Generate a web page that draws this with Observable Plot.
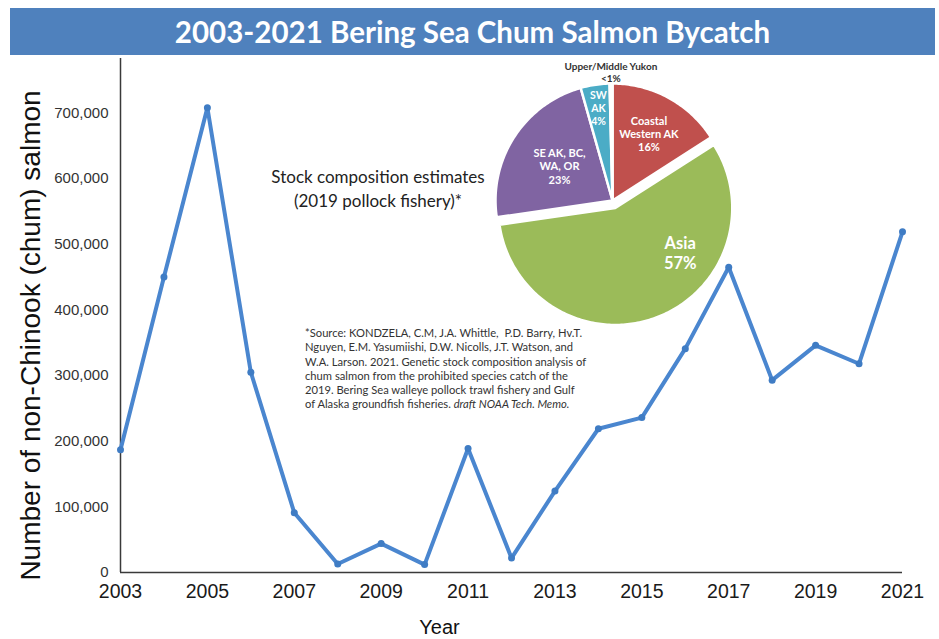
<!DOCTYPE html>
<html>
<head>
<meta charset="utf-8">
<script src="https://cdn.jsdelivr.net/npm/d3@7"></script>
<script src="https://cdn.jsdelivr.net/npm/@observablehq/plot@0.6"></script>
<style>
  body { margin: 0; background: #fff; }
  #page { position: relative; width: 939px; height: 639px; overflow: hidden; font-family: Lato, "Open Sans", sans-serif; }
  #title { position: absolute; left: 10px; top: 8px; width: 925px; height: 47px; background: #4f81bd; color: #fff;
           font-weight: 700; font-size: 29.5px; display: flex; align-items: center; justify-content: center; }
  #main { position: absolute; left: 0; top: 55px; }
  #pie { position: absolute; left: 462px; top: 50px; }
  #stock { position: absolute; left: 253px; top: 165px; width: 250px; text-align: center; font-size: 17px; line-height: 24px; color: #222; }
  #source { position: absolute; left: 305px; top: 326px; font-size: 11.2px; line-height: 14.3px; color: #333; white-space: nowrap; }
</style>
</head>
<body>
<div id="page">
  <div id="title">2003-2021 Bering Sea Chum Salmon Bycatch</div>
  <div id="main"></div>
  <div id="stock">Stock composition estimates<br>(2019 pollock fishery)*</div>
  <div id="source">*Source: KONDZELA, C.M, J.A. Whittle,&nbsp; P.D. Barry, Hv.T.<br>Nguyen, E.M. Yasumiishi, D.W. Nicolls, J.T. Watson, and<br>W.A. Larson. 2021. Genetic stock composition analysis of<br>chum salmon from the prohibited species catch of the<br>2019. Bering Sea walleye pollock trawl fishery and Gulf<br>of Alaska groundfish fisheries. <i>draft NOAA Tech. Memo.</i></div>
  <div id="pie"></div>
</div>
<script>
// ---- data ----
const years = [2003, 2004, 2005, 2006, 2007, 2008, 2009, 2010, 2011, 2012, 2013, 2014, 2015, 2016, 2017, 2018, 2019, 2020, 2021];
const bycatch = [187000, 450000, 708000, 305000, 91000, 13000, 44000, 12000, 189000, 22000, 124000, 219000, 236000, 341000, 465000, 293000, 346000, 318000, 519000];
const xTicks = [2003, 2005, 2007, 2009, 2011, 2013, 2015, 2017, 2019, 2021];
const yTicks = [0, 100000, 200000, 300000, 400000, 500000, 600000, 700000];
const yLabel = "Number of non-Chinook (chum) salmon";
const xLabel = "Year";

const pieNames = ["Coastal Western AK", "Asia", "SE AK, BC, WA, OR", "SW AK", "Upper/Middle Yukon"];
const pieValues = [16, 57, 23, 4, 0.4];
const pieLabels = ["Coastal\nWestern AK\n16%", "Asia\n57%", "SE AK, BC,\nWA, OR\n23%", "SW\nAK\n4%", "Upper/Middle Yukon\n<1%"];
const pieColors = ["#c0504d", "#9bbb59", "#8064a2", "#4bacc6", "#ffffff"];

// ---- layout (styling only) ----
const explode = {"Asia": 0.068};
const labelLayout = {
  "Coastal Western AK": {r: 0.65, size: 11, fill: "#fff"},
  "Asia": {r: 0.73, rotateDeg: -32, size: 16.5, fill: "#fff"},
  "SE AK, BC, WA, OR": {r: 0.54, size: 11, fill: "#fff"},
  "SW AK": {r: 0.80, size: 10.5, fill: "#fff"},
  "Upper/Middle Yukon": {r: 1.10, size: 10, fill: "#333"}
};

const data = years.map((year, i) => ({year, value: bycatch[i]}));

const main = Plot.plot({
  width: 939,
  height: 584,
  marginLeft: 120,
  marginRight: 37,
  marginTop: 3,
  marginBottom: 67,
  style: {fontFamily: "'Liberation Sans', Arial, sans-serif", background: "transparent", overflow: "visible"},
  x: {domain: [2003, 2021]},
  y: {domain: [0, 783000]},
  marks: [
    Plot.axisY({ticks: yTicks, tickSize: 0, tickPadding: 12, tickFormat: d3.format(","), fontSize: 15, color: "#333", label: null}),
    Plot.axisX({ticks: xTicks, tickSize: 0, tickPadding: 12, tickFormat: d => String(d), fontSize: 19.5, color: "#1a1a1a", label: null}),
    Plot.ruleY([0], {stroke: "#3a3a3a", strokeWidth: 1.5}),
    Plot.ruleX([2003], {stroke: "#3a3a3a", strokeWidth: 1.5}),
    Plot.line(data, {x: "year", y: "value", stroke: "#4a86cf", strokeWidth: 4, strokeLinejoin: "round"}),
    Plot.dot(data, {x: "year", y: "value", r: 3.5, fill: "#3f7cc4"}),
    Plot.text([yLabel], {frameAnchor: "left", rotate: -90, dx: -89, dy: 20, fontSize: 28, fill: "#111", textAnchor: "middle", lineAnchor: "middle"}),
    Plot.text([xLabel], {frameAnchor: "bottom", dx: -72, dy: 55, fontSize: 20, fill: "#111", textAnchor: "middle", lineAnchor: "middle"})
  ]
});
document.getElementById("main").append(main);

// ---- pie ----
const arcs = d3.pie().sort(null).value(d => d.value)(pieNames.map((name, i) => ({name, value: pieValues[i], color: pieColors[i], label: pieLabels[i]})));
const piePts = [];
const pieText = [];
for (const a of arcs) {
  const name = a.data.name;
  const mid = (a.startAngle + a.endAngle) / 2;
  const off = explode[name] || 0;
  const ox = off * Math.sin(mid), oy = off * Math.cos(mid);
  const n = Math.max(2, Math.ceil((a.endAngle - a.startAngle) / (Math.PI / 180)));
  piePts.push({name, color: a.data.color, x: ox, y: oy});
  for (let k = 0; k <= n; k++) {
    const t = a.startAngle + (a.endAngle - a.startAngle) * k / n;
    piePts.push({name, color: a.data.color, x: ox + Math.sin(t), y: oy + Math.cos(t)});
  }
  piePts.push({name, color: a.data.color, x: ox, y: oy});
  const L = labelLayout[name];
  const la = mid + (L.rotateDeg || 0) * Math.PI / 180;
  pieText.push({label: a.data.label, x: L.r * Math.sin(la), y: L.r * Math.cos(la), size: L.size, fill: L.fill});
}
const R = 150 / 117;
const pie = Plot.plot({
  width: 300, height: 300, margin: 0,
  style: {background: "transparent", overflow: "visible", fontFamily: "Lato, 'Open Sans', sans-serif"},
  x: {domain: [-R, R], axis: null},
  y: {domain: [-R, R], axis: null},
  marks: [
    Plot.line(piePts, {x: "x", y: "y", z: "name", fill: "color", stroke: "white", strokeWidth: 2.5, strokeLinejoin: "round", curve: "linear"}),
    Plot.text(pieText, {x: "x", y: "y", text: "label", fill: "fill", fontSize: "size", fontWeight: "bold", lineHeight: 1.2, textAnchor: "middle", lineAnchor: "middle"})
  ]
});
document.getElementById("pie").append(pie);
</script>
</body>
</html>
